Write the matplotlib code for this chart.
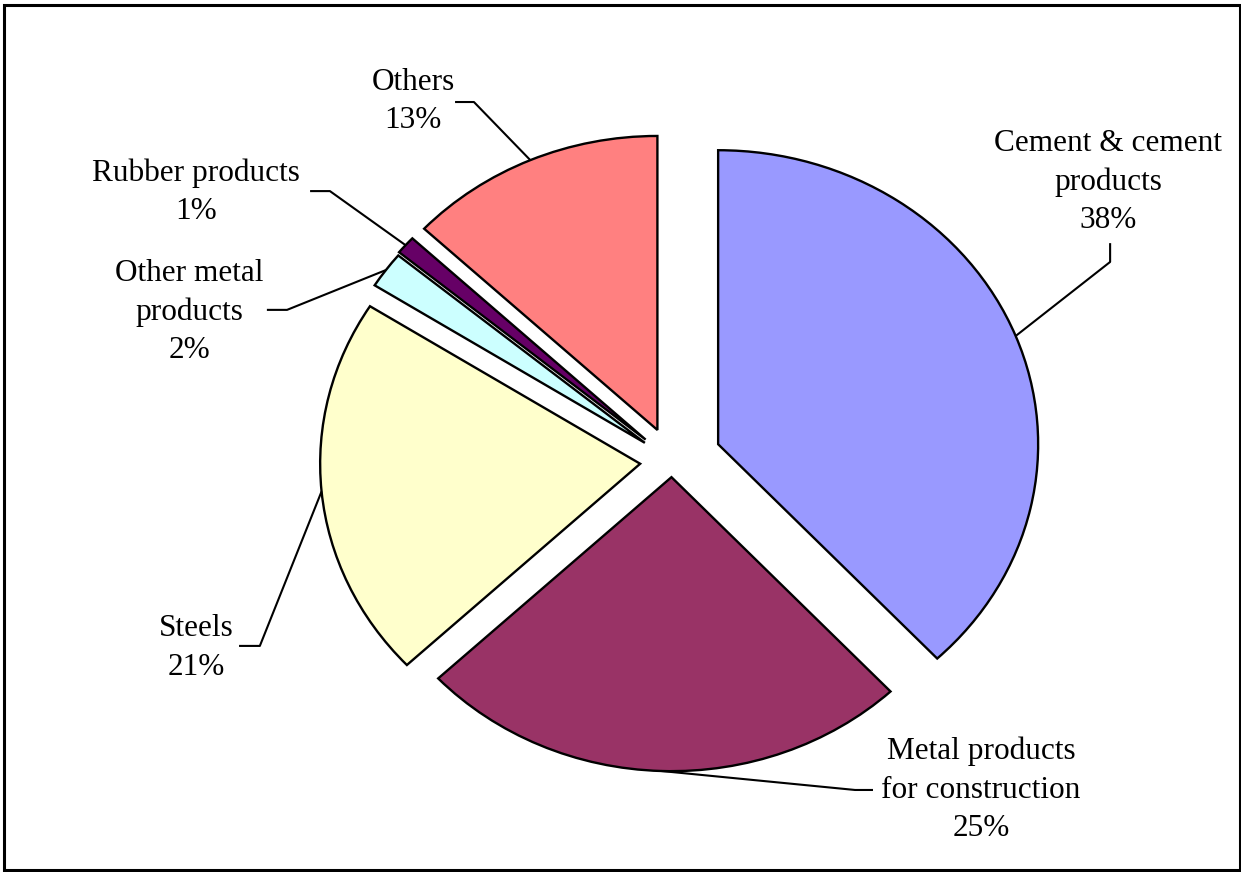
import matplotlib
matplotlib.use("Agg")
import matplotlib.pyplot as plt
import numpy as np
from matplotlib.patches import Rectangle

# Share of each product group
categories = ["Cement & cement\nproducts", "Metal products\nfor construction", "Steels",
              "Other metal\nproducts", "Rubber products", "Others"]
shares = [38, 25, 21, 2, 1, 13]

colors = ["#9999FF", "#993366", "#FFFFCC", "#CCFFFF", "#660066", "#FF8080"]
explode = [0.155, 0.055, 0.10, 0.105, 0.11, 0.115]

# label block centres and leader-line elbows (data units)
label_pos = [(1.362, 0.949), (0.966, -1.119), (-1.487, -0.636),
             (-1.509, 0.507), (-1.487, 0.915), (-0.809, 1.224)]
elbows = [[(1.369, 0.741), (1.369, 0.677)],
          [(0.628, -1.119), (0.572, -1.119)],
          [(-1.353, -0.629), (-1.288, -0.629)],
          [(-1.266, 0.514), (-1.203, 0.514)],
          [(-1.131, 0.918), (-1.069, 0.918)],
          [(-0.678, 1.221), (-0.619, 1.221)]]

plt.rcParams['font.family'] = ['Liberation Serif', 'DejaVu Serif']

fig = plt.figure(figsize=(12.41, 8.72), dpi=100)
ax = fig.add_axes([0, 0, 1, 1])

wedges, _ = ax.pie(shares, explode=explode, colors=colors, startangle=90,
                   counterclock=False,
                   wedgeprops=dict(edgecolor='black', linewidth=1.7))
ax.set_aspect('auto')
ax.set_xlim(-2.1, 1.778)
ax.set_ylim(-1.398, 1.568)
ax.set_axis_off()

for w, name, pct, (lx, ly), elb in zip(wedges, categories, shares, label_pos, elbows):
    mid = np.deg2rad((w.theta1 + w.theta2) / 2)
    cx, cy = w.center
    arc_pt = (cx + w.r * np.cos(mid), cy + w.r * np.sin(mid))
    pts = [elb[0], elb[1], arc_pt]
    ax.plot([p[0] for p in pts], [p[1] for p in pts], color='black', lw=1.5,
            solid_capstyle='butt')
    ax.text(lx, ly, f"{name}\n{pct}%", ha='center', va='center', fontsize=22.5,
            linespacing=1.42, color='black')

fig.patches.append(Rectangle((0.003, 0.002), 0.996, 0.992, transform=fig.transFigure,
                             fill=False, edgecolor='black', linewidth=2.2))

fig.savefig("out.png", dpi=100, facecolor='white')
